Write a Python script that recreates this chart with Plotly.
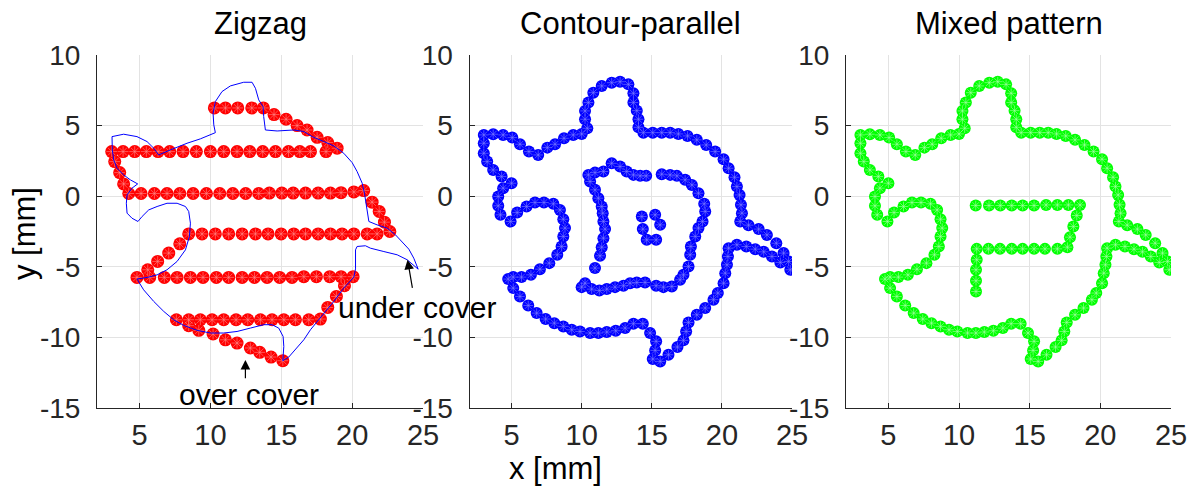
import plotly.graph_objects as go

# ---------------- data ----------------
panel_titles = ["Zigzag", "Contour-parallel", "Mixed pattern"]
x_ticks = [5, 10, 15, 20, 25]
x_tick_labels = ["5", "10", "15", "20", "25"]
y_ticks = [-15, -10, -5, 0, 5, 10]
y_tick_labels = ["-15", "-10", "-5", "0", "5", "10"]

# Zigzag tool-path points (red)
zz_x = [10.28, 11.06, 11.93, 12.92, 13.74,
        14.49, 15.34, 16.12, 16.82, 17.53, 18.28, 18.94,
        18.16, 17.06, 16.31, 15.51, 14.59, 13.69, 12.78, 11.88, 10.94, 10.0, 9.01, 8.07, 7.13, 6.31, 5.48, 4.66, 3.84, 3.04,
        3.25, 3.60, 3.88,
        4.24, 5.11, 6.05, 6.94, 7.84, 8.78, 9.72, 10.66, 11.58, 12.49, 13.41, 14.16, 15.04, 15.84, 16.71, 17.60, 18.47, 19.22, 20.12, 20.82,
        21.41, 21.91, 22.28, 22.66,
        21.76, 21.06, 20.12, 19.29, 18.47, 17.60, 16.71, 15.88, 14.99, 14.07, 13.18, 12.24, 11.29, 10.35, 9.41, 8.47,
        7.84, 7.06, 6.28, 5.58,
        4.82, 5.72, 6.75, 7.65, 8.59, 9.48, 10.42, 11.29, 12.24, 13.11, 14.00, 14.89, 15.76, 16.59, 17.48, 18.42, 19.22, 20.07,
        19.46, 18.89, 18.28,
        17.76, 16.94, 16.00, 15.18, 14.35, 13.53, 12.64, 11.81, 10.94, 10.12, 9.29, 8.47, 7.60,
        8.47, 9.18, 10.19, 11.06, 11.88, 12.82, 13.48, 14.28, 15.11]
zz_y = [6.25, 6.25, 6.25, 6.25, 6.25,
        5.78, 5.45, 5.00, 4.69, 4.17, 3.80, 3.40,
        3.16, 3.16, 3.16, 3.16, 3.16, 3.16, 3.16, 3.16, 3.16, 3.16, 3.16, 3.16, 3.16, 3.16, 3.16, 3.16, 3.16, 3.16,
        2.45, 1.67, 0.87,
        0.19, 0.19, 0.19, 0.19, 0.19, 0.19, 0.19, 0.19, 0.19, 0.19, 0.19, 0.22, 0.22, 0.22, 0.22, 0.22, 0.22, 0.25, 0.30, 0.40,
        -0.42, -1.08, -1.84, -2.50,
        -2.67, -2.67, -2.67, -2.67, -2.67, -2.67, -2.67, -2.67, -2.67, -2.67, -2.67, -2.67, -2.67, -2.67, -2.67, -2.67,
        -3.37, -4.03, -4.62, -5.21,
        -5.75, -5.75, -5.75, -5.75, -5.75, -5.75, -5.75, -5.75, -5.75, -5.75, -5.75, -5.75, -5.75, -5.70, -5.70, -5.70, -5.70, -5.70,
        -6.34, -7.10, -7.88,
        -8.70, -8.75, -8.75, -8.75, -8.75, -8.75, -8.75, -8.75, -8.75, -8.75, -8.75, -8.75, -8.75,
        -9.17, -9.50, -9.76, -10.17, -10.40, -10.75, -11.06, -11.39, -11.65]

# Part outline in the zigzag panel (thin blue line)
outline_x = [3.06, 3.88, 4.82, 5.53, 6.00, 6.35, 7.18, 8.35, 9.29, 10.00, 10.35, 10.24, 10.19, 10.35, 10.82, 11.41,
             12.35, 12.94, 13.18, 13.41, 13.72, 13.76, 13.88, 14.71, 15.88, 16.59, 17.18, 18.00, 18.71, 19.41, 20.00,
             20.35, 20.71, 20.87, 21.01, 21.18, 21.76, 22.47, 23.06, 23.53, 24.00, 24.35, 24.66, 23.88, 23.18, 22.24,
             21.29, 20.94, 20.35, 20.24, 20.24, 20.12, 19.41, 18.71, 18.00, 17.65, 17.06, 16.59, 16.00, 15.53, 15.11,
             15.18, 15.13, 14.82, 14.35, 13.76, 12.82, 11.88, 10.94, 10.00, 9.06, 8.12, 7.41, 6.71, 6.00, 5.29, 4.82,
             5.65, 6.24, 6.94, 7.65, 8.24, 8.52, 8.59, 8.47, 8.24, 7.65, 6.94, 6.24, 5.65, 5.18, 4.89, 4.47, 4.12,
             4.07, 4.12, 4.47, 4.87, 4.35, 3.88, 3.41, 3.18, 3.08, 3.06]
outline_y = [4.22, 4.39, 4.22, 3.87, 3.40, 2.92, 3.28, 3.75, 4.06, 4.34, 4.50, 5.05, 5.87, 6.70, 7.41, 7.81,
             8.07, 8.07, 7.64, 6.82, 6.34, 5.64, 4.69, 4.62, 4.69, 4.58, 4.22, 3.87, 3.56, 3.04, 2.38,
             1.75, 0.92, 0.21, -0.73, -1.79, -2.03, -2.26, -2.74, -3.21, -3.75, -4.39, -5.17, -4.50, -4.15, -3.92,
             -3.68, -3.51, -3.56, -3.80, -5.15, -5.73, -6.51, -7.45, -8.33, -8.70, -9.46, -10.17, -10.87, -11.39, -11.65,
             -10.64, -9.93, -9.34, -9.10, -9.10, -9.34, -9.58, -9.69, -9.69, -9.50, -9.15, -8.75, -8.16, -7.45, -6.63, -5.87,
             -5.73, -5.57, -5.21, -4.62, -3.80, -2.85, -1.91, -1.08, -0.73, -0.50, -0.50, -0.73, -0.97, -1.44, -1.79, -1.56, -1.20,
             -0.50, 0.09, 0.57, 0.87, 1.16, 1.51, 1.98, 2.57, 3.28, 4.22]

# Outer contour path (used in contour-parallel and mixed panels)
outer_x = [3.02, 3.69, 4.40, 5.05, 5.60, 6.24, 6.90, 7.55, 8.10, 8.74, 9.40, 10.00, 10.40, 10.24, 10.24, 10.48,
           10.83, 11.43, 12.14, 12.74, 13.33, 13.69, 13.69, 13.93, 14.05, 14.05, 14.40, 15.07, 15.71, 16.31, 16.90,
           17.55, 18.21, 18.88, 19.52, 20.12, 20.48, 20.90, 21.07, 21.26, 21.36, 21.43, 21.31, 21.90, 22.62, 23.21,
           23.88, 24.40, 24.76, 24.88, 24.17, 23.57, 22.98, 22.38, 21.74, 21.07, 20.48, 20.43, 20.36, 20.24, 20.12,
           19.71, 19.40, 18.81, 18.21, 17.62, 17.45, 17.26, 16.83, 16.19, 15.60, 15.07, 15.24, 15.31, 14.88, 14.36,
           13.69, 13.10, 12.43, 11.79, 11.19, 10.60, 9.88, 9.29, 8.69, 8.05, 7.43, 6.79, 6.19, 5.60, 5.12, 4.76,
           5.12, 5.71, 6.38, 7.02, 7.69, 8.26, 8.57, 8.69, 8.81, 8.69, 8.45, 7.98, 7.31, 6.67, 6.07, 5.40, 4.93,
           4.21, 4.05, 4.05, 4.40, 5.00, 4.29, 3.69, 3.26, 3.02, 3.02]
outer_y = [4.34, 4.39, 4.34, 4.15, 3.68, 3.16, 2.92, 3.44, 3.68, 4.10, 4.34, 4.41, 4.81, 5.45, 6.04, 6.63,
           7.33, 7.81, 8.04, 8.11, 7.92, 7.29, 6.63, 6.06, 5.45, 4.88, 4.50, 4.50, 4.50, 4.50, 4.41,
           4.27, 3.99, 3.63, 3.16, 2.62, 1.98, 1.34, 0.68, 0.09, -0.61, -1.20, -1.79, -2.05, -2.33, -2.74,
           -3.33, -4.03, -4.62, -5.21, -4.69, -4.27, -3.94, -3.75, -3.56, -3.44, -3.68, -4.27, -4.86, -5.45, -6.16,
           -6.86, -7.33, -7.92, -8.40, -8.94, -9.58, -10.21, -10.68, -11.23, -11.70, -11.53, -10.92, -10.28, -9.69, -9.03,
           -9.03, -9.34, -9.53, -9.62, -9.69, -9.69, -9.58, -9.46, -9.22, -8.99, -8.70, -8.28, -7.74, -7.10, -6.51, -5.87,
           -5.73, -5.73, -5.57, -5.17, -4.74, -4.15, -3.56, -2.85, -2.26, -1.63, -0.97, -0.54, -0.45, -0.45, -0.73, -1.16, -1.79,
           -1.32, -0.68, -0.02, 0.57, 0.92, 1.39, 1.86, 2.45, 3.04, 3.75]

# Inner contour (contour-parallel)
inner_x = [10.48, 10.60, 10.95, 11.55, 12.14, 12.74, 13.21, 13.69, 14.17, 14.60,
           15.71, 16.31, 16.79, 17.38, 17.86, 18.33, 18.74, 18.81, 18.62, 18.33, 18.10, 17.79, 17.74, 17.62,
           17.26, 17.02, 16.43, 15.83, 15.31, 14.52, 13.93, 13.45, 12.98, 12.38, 11.79, 11.26, 10.71, 10.24, 10.00,
           10.95, 11.31, 11.43, 11.55, 11.67, 11.55, 11.50, 11.43, 11.19, 10.95]
inner_y = [1.51, 1.04, 1.67, 1.75, 2.33, 2.10, 1.75, 1.51, 1.44, 1.44,
           1.56, 1.51, 1.44, 1.16, 0.80, 0.21, -0.54, -1.08, -1.79, -2.26, -2.85, -3.56, -4.15, -4.98,
           -5.57, -5.92, -6.39, -6.44, -6.34, -6.11, -6.11, -6.16, -6.34, -6.44, -6.58, -6.68, -6.58, -6.16, -6.44,
           -5.09, -4.22, -3.61, -2.97, -2.33, -1.79, -1.20, -0.73, -0.14, 0.45]

# Centre cluster (contour-parallel)
centre_x = [14.29, 15.24, 15.60, 14.36, 14.64, 15.31]
centre_y = [-1.44, -1.32, -2.03, -2.33, -3.09, -3.09]

# Inner zigzag of the mixed pattern
mixed_x = [11.18, 12.12, 12.92, 13.73, 14.50, 15.31, 16.16, 16.96, 17.74, 18.56,
           18.33, 18.09, 17.85, 17.67,
           16.96, 16.08, 15.31, 14.50, 13.73, 12.90, 12.08, 11.25,
           11.25, 11.20, 11.20, 11.20]
mixed_y = [-0.66, -0.66, -0.66, -0.66, -0.66, -0.66, -0.62, -0.62, -0.62, -0.62,
           -1.37, -2.15, -2.90, -3.61,
           -3.73, -3.73, -3.73, -3.73, -3.73, -3.73, -3.73, -3.73,
           -4.50, -5.21, -5.99, -6.75]

# ---------------- figure ----------------
W, H = 1195, 495
x_domains = [(97 / W, 423 / W), (469.5 / W, 792 / W), (846 / W, 1171 / W)]
y_domain = ((495 - 408) / H, (495 - 55) / H)

FONT = "Liberation Sans, Arial, Helvetica, sans-serif"
AX = "#262626"
GRID = "#e3e3e3"

fig = go.Figure()


def dots(xs, ys, color, light, axis_idx, size):
    xa = "x" if axis_idx == 1 else f"x{axis_idx}"
    ya = "y" if axis_idx == 1 else f"y{axis_idx}"
    fig.add_trace(go.Scatter(x=xs, y=ys, mode="markers", xaxis=xa, yaxis=ya,
                             marker=dict(symbol="circle", size=size, color=color,
                                         line=dict(width=0)),
                             hoverinfo="skip", showlegend=False))
    fig.add_trace(go.Scatter(x=xs, y=ys, mode="markers", xaxis=xa, yaxis=ya,
                             marker=dict(symbol="asterisk-open", size=size - 4, color=light,
                                         line=dict(width=0.6, color=light)),
                             hoverinfo="skip", showlegend=False))


RED, BLUE, GREEN = "#ff0000", "#0000ff", "#00ff00"

dots(zz_x, zz_y, RED, "#ff8a8a", 1, 13)
fig.add_trace(go.Scatter(x=outline_x, y=outline_y, mode="lines", xaxis="x", yaxis="y",
                         line=dict(color=BLUE, width=1), hoverinfo="skip", showlegend=False))

dots(outer_x + inner_x + centre_x, outer_y + inner_y + centre_y, BLUE, "#8080ff", 2, 12)
dots(outer_x + mixed_x, outer_y + mixed_y, GREEN, "#a8ffa8", 3, 12)

layout = dict(
    width=W, height=H,
    margin=dict(l=0, r=0, t=0, b=0, autoexpand=False),
    paper_bgcolor="white", plot_bgcolor="white",
    font=dict(family=FONT, color=AX, size=28),
    showlegend=False,
)
for i in range(3):
    xk = "xaxis" if i == 0 else f"xaxis{i + 1}"
    yk = "yaxis" if i == 0 else f"yaxis{i + 1}"
    anchor_x = "y" if i == 0 else f"y{i + 1}"
    anchor_y = "x" if i == 0 else f"x{i + 1}"
    layout[xk] = dict(domain=list(x_domains[i]), range=[2, 25], anchor=anchor_x,
                      tickvals=x_ticks, ticktext=x_tick_labels,
                      ticks="inside", ticklen=5, tickcolor=AX, ticklabelstandoff=1,
                      showline=True, linecolor=AX, linewidth=1, mirror=False,
                      showgrid=True, gridcolor=GRID, gridwidth=1, zeroline=False,
                      automargin=False,
                      tickfont=dict(size=29, color=AX, family=FONT), fixedrange=True)
    layout[yk] = dict(domain=list(y_domain), range=[-15, 10], anchor=anchor_y,
                      tickvals=y_ticks, ticktext=y_tick_labels,
                      ticks="inside", ticklen=5, tickcolor=AX, ticklabelstandoff=10,
                      showline=True, linecolor=AX, linewidth=1, mirror=False,
                      showgrid=True, gridcolor=GRID, gridwidth=1, zeroline=False,
                      automargin=False,
                      tickfont=dict(size=28, color=AX, family=FONT), fixedrange=True)
fig.update_layout(**layout)

annotations = []
for i, t in enumerate(panel_titles):
    cx = (x_domains[i][0] + x_domains[i][1]) / 2
    annotations.append(dict(text=t, x=cx, y=1 - 24 / H, xref="paper", yref="paper",
                            showarrow=False, xanchor="center", yanchor="middle",
                            font=dict(size=31, color="black", family=FONT)))
annotations.append(dict(text="x [mm]", x=555 / W, y=1 - 468 / H, xref="paper", yref="paper",
                        showarrow=False, xanchor="center", yanchor="middle",
                        font=dict(size=31, color="black", family=FONT)))
annotations.append(dict(text="y [mm]", x=25 / W, y=1 - 234 / H, xref="paper", yref="paper",
                        showarrow=False, xanchor="center", yanchor="middle", textangle=-90,
                        font=dict(size=31, color="black", family=FONT)))
# arrows and their labels
annotations.append(dict(x=23.91, y=-4.5, ax=24.27, ay=-6.6, xref="x", yref="y",
                        axref="x", ayref="y", text="", showarrow=True,
                        arrowhead=2, arrowsize=1.6, arrowwidth=1.2, arrowcolor="black"))
annotations.append(dict(text="under cover", x=24.55, y=-7.9, xref="x", yref="y",
                        showarrow=False, xanchor="center", yanchor="middle",
                        font=dict(size=30, color="black", family=FONT)))
annotations.append(dict(x=12.47, y=-11.6, ax=12.47, ay=-13.0, xref="x", yref="y",
                        axref="x", ayref="y", text="", showarrow=True,
                        arrowhead=2, arrowsize=1.6, arrowwidth=1.2, arrowcolor="black"))
annotations.append(dict(text="over cover", x=12.69, y=-14.05, xref="x", yref="y",
                        showarrow=False, xanchor="center", yanchor="middle",
                        font=dict(size=30, color="black", family=FONT)))
fig.update_layout(annotations=annotations)

fig.write_html("out.html")
